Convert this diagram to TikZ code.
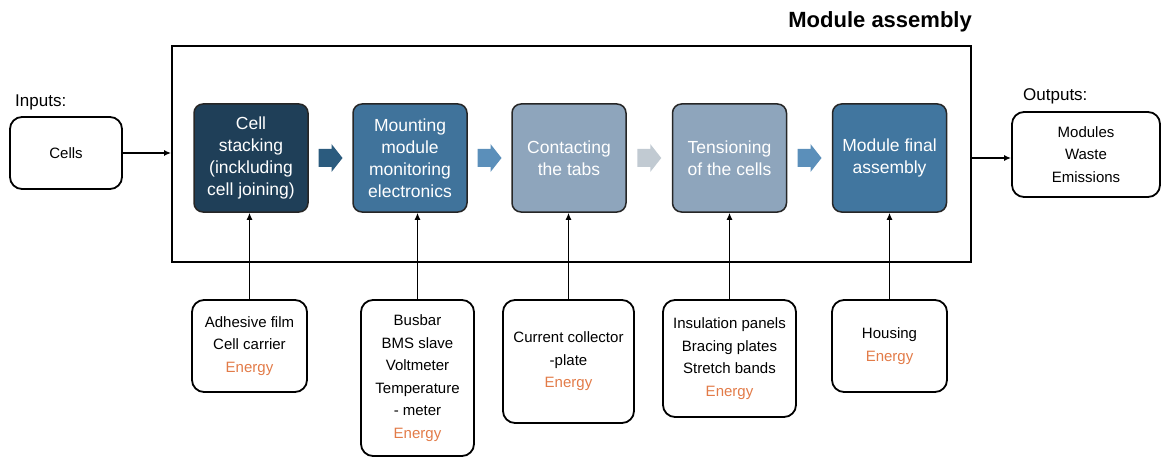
\documentclass[tikz,border=0pt]{standalone}
\usepackage{fontspec}
\setmainfont{Liberation Sans}
\usetikzlibrary{arrows.meta,calc}

\definecolor{stepA}{HTML}{1F3F58}
\definecolor{stepB}{HTML}{40739B}
\definecolor{stepC}{HTML}{8EA5BC}
\definecolor{stepE}{HTML}{41769F}
\definecolor{flowA}{HTML}{2B5B7E}
\definecolor{flowB}{HTML}{5B8FBA}
\definecolor{flowC}{HTML}{C1CAD2}
\definecolor{energy}{HTML}{E27B48}

\tikzset{
  stepbox/.style={draw=black!85, line width=1.5pt, rounded corners=9pt,
    minimum width=114pt, minimum height=108pt, inner sep=0pt, align=center,
    text=white, font=\fontsize{17.5}{22}\selectfont},
  inbox/.style={draw=black, line width=1.8pt, rounded corners=12pt,
    inner sep=0pt, align=center, font=\fontsize{15}{22.5}\selectfont},
  label/.style={inner sep=0pt, font=\fontsize{17}{20}\selectfont},
  link/.style={line width=1.6pt, -{Latex[length=7pt,width=6pt]}},
}

\newcommand{\blockarrow}[3]{%
  \fill[#3] ($(#1.east)!0.5!(#2.west)$) ++(-12,-9) -- ++(13,0) -- ++(0,-5)
    -- ++(11,14) -- ++(-11,14) -- ++(0,-5) -- ++(-13,0) -- cycle;}

\begin{document}
\begin{tikzpicture}[x=1pt, y=-1pt]
  \useasboundingbox (0,0) rectangle (1161,457);

  % process frame and title
  \node[draw=black, line width=1.8pt, minimum width=799pt, minimum height=216pt,
        inner sep=0pt] (frame) at (571.5,154) {};
  \node[anchor=base east, inner sep=0pt, font=\fontsize{22}{26}\selectfont\bfseries]
        (title) at (972,28) {Module assembly};

  % inputs and outputs
  \node[label, anchor=base west] (inlabel) at (15,107) {Inputs:};
  \node[inbox, minimum width=112pt, minimum height=72pt] (cells) at (66,153) {Cells};
  \node[label, anchor=base west] (outlabel) at (1023,101) {Outputs:};
  \node[inbox, minimum width=148pt, minimum height=85pt] (out) at (1086,154.5)
        {Modules\\Waste\\Emissions};

  % process steps
  \node[stepbox, fill=stepA] (p1) at (251,158)
        {Cell\\stacking\\(inckluding\\cell joining)};
  \node[stepbox, fill=stepB] (p2) at (410,158)
        {Mounting\\module\\monitoring\\electronics};
  \node[stepbox, fill=stepC] (p3) at (569,158) {Contacting\\the tabs};
  \node[stepbox, fill=stepC] (p4) at (729.5,158) {Tensioning\\of the cells};
  \node[stepbox, fill=stepE] (p5) at (889.5,158) {Module final\\assembly};

  \blockarrow{p1}{p2}{flowA}
  \blockarrow{p2}{p3}{flowB}
  \blockarrow{p3}{p4}{flowC}
  \blockarrow{p4}{p5}{flowB}

  % material inputs per step
  \node[inbox, minimum width=115pt, minimum height=92pt] (b1) at (249.5,346)
        {Adhesive film\\Cell carrier\\\textcolor{energy}{Energy}};
  \node[inbox, minimum width=113pt, minimum height=156pt] (b2) at (417.5,378)
        {Busbar\\BMS slave\\Voltmeter\\Temperature\\- meter\\\textcolor{energy}{Energy}};
  \node[inbox, minimum width=131pt, minimum height=123pt] (b3) at (568.5,361.5)
        {Current collector\\-plate\\\textcolor{energy}{Energy}};
  \node[inbox, minimum width=133pt, minimum height=117pt] (b4) at (729.5,358.5)
        {Insulation panels\\Bracing plates\\Stretch bands\\\textcolor{energy}{Energy}};
  \node[inbox, minimum width=115pt, minimum height=92pt] (b5) at (889.5,346)
        {Housing\\\textcolor{energy}{Energy}};

  % connectors
  \draw[link] (cells.east) -- (frame.west |- cells.east);
  \draw[link] (frame.east |- p5.east) -- (out.west |- p5.east);
  \foreach \i in {1,...,5}
    \draw[link] (b\i.north) -- (b\i.north |- p\i.south);
\end{tikzpicture}
\end{document}
